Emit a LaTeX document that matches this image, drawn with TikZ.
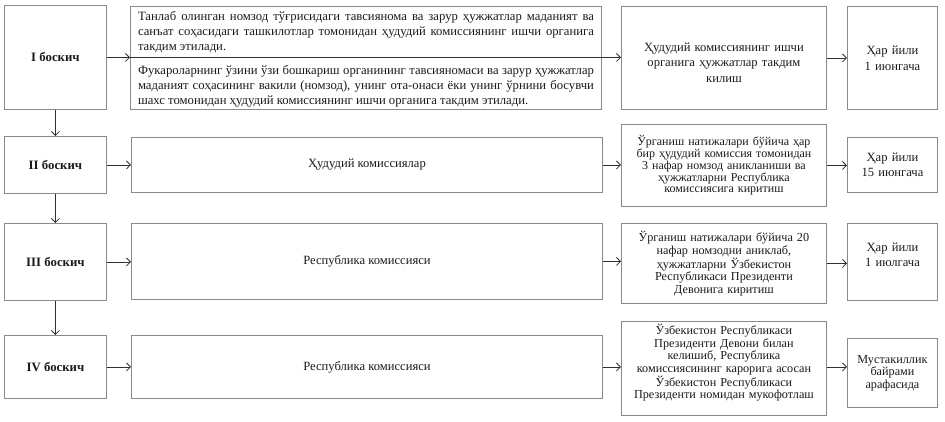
\documentclass[tikz,border=0pt]{standalone}
\usepackage{fontspec}
\setmainfont{Liberation Serif}
\usetikzlibrary{arrows.meta}
\definecolor{boxgray}{HTML}{8A8A8A}
\definecolor{arrgray}{HTML}{303030}
\definecolor{txt}{HTML}{1A1A1A}
\newcommand{\dn}[1]{\rule[-#1]{0pt}{1pt}}
\tikzset{
  box/.style={draw=boxgray, line width=0.9pt, anchor=north west, inner sep=0pt, text=txt, font=\fontsize{12.6}{15}\selectfont},
  stagebox/.style={box, minimum width=102pt, font=\fontsize{12.8}{15}\selectfont\bfseries},
  wide/.style={box, minimum width=471pt},
  resbox/.style={box, minimum width=205pt, align=center, text width=202pt},
  datebox/.style={box, minimum width=90pt, align=center, text width=88pt},
  tight/.style={font=\fontsize{12.2}{12.5}\selectfont},
  arr/.style={draw=arrgray, line width=0.8pt, -{Straight Barb[length=4pt,width=8pt]}},
  divline/.style={draw=arrgray, line width=0.8pt},
  para/.style={text=txt, text width=456pt, align=justify, inner sep=0pt, font=\fontsize{12.7}{15}\selectfont}
}
\begin{document}
\begin{tikzpicture}[x=1pt,y=-1pt]
\useasboundingbox (0,0) rectangle (945,421);
% Row 1
\node[stagebox, minimum height=104pt] (s1) at (4,5) {I боскич};
\node[wide, minimum height=103pt] (t1) at (130,6) {};
\node[resbox, minimum height=103pt, font=\fontsize{12.6}{15.5}\selectfont] (r1) at (621,6) {\rule{0pt}{18pt}Ҳудудий комиссиянинг ишчи\\органига ҳужжатлар такдим\\килиш};
\node[datebox, minimum height=103pt, font=\fontsize{12.6}{16}\selectfont] (d1) at (847,6) {Ҳар йили\\1 июнгача};
\node[para] (p1a) at (366,32) {Танлаб олинган номзод тўғрисидаги тавсиянома ва зарур ҳужжатлар маданият ва санъат соҳасидаги ташкилотлар томонидан ҳудудий комиссиянинг ишчи органига такдим этилади.};
\node[para] (p1b) at (366,86) {Фукароларнинг ўзини ўзи бошкариш органининг тавсияномаси ва зарур ҳужжатлар маданият соҳасининг вакили (номзод), унинг ота-онаси ёки унинг ўрнини босувчи шахс томонидан ҳудудий комиссиянинг ишчи органига такдим этилади.};
% Row 2
\node[stagebox, minimum height=57pt] (s2) at (4,136) {II боскич};
\node[wide, minimum height=55pt] (t2) at (131,137) {Ҳудудий комиссиялар};
\node[resbox, minimum height=82pt, font=\fontsize{12}{11.8}\selectfont] (r2) at (621,124) {Ўрганиш натижалари бўйича ҳар\\бир ҳудудий комиссия томонидан\\3 нафар номзод аникланиши ва\\ҳужжатларни Республика\\комиссиясига киритиш};
\node[datebox, minimum height=55pt, font=\fontsize{12.6}{15}\selectfont] (d2) at (847,137) {Ҳар йили\\15 июнгача};
% Row 3
\node[stagebox, minimum height=77pt] (s3) at (4,223) {III боскич};
\node[wide, minimum height=76pt] (t3) at (131,223) {Республика комиссияси};
\node[resbox, minimum height=80pt, tight] (r3) at (621,223) {Ўрганиш натижалари бўйича 20\\нафар номзодни аниклаб,\\ҳужжатларни Ўзбекистон\\Республикаси Президенти\\Девонига киритиш};
\node[datebox, minimum height=77pt, font=\fontsize{12.6}{15}\selectfont] (d3) at (847,223) {Ҳар йили\\1 июлгача\dn{14pt}};
% Row 4
\node[stagebox, minimum height=63pt] (s4) at (4,335) {IV боскич};
\node[wide, minimum height=63pt] (t4) at (131,335) {Республика комиссияси};
\node[resbox, minimum height=94pt, tight] (r4) at (621,321) {Ўзбекистон Республикаси\\Президенти Девони билан\\келишиб, Республика\\комиссиясининг карорига асосан\\Ўзбекистон Республикаси\\Президенти номидан мукофотлаш\dn{14pt}};
\node[datebox, minimum height=69pt, tight] (d4) at (847,338) {Мустакиллик\\байрами\\арафасида};
% Row 1 connectors
\coordinate (m1) at (s1.east -| t1.west);
\coordinate (m2) at (s1.east -| t1.east);
\draw[arr] (s1.east) -- (m1);
\draw[divline] (m1) -- (m2);
\draw[arr] (m2) -- (s1.east -| r1.west);
\draw[arr] (r1.east) -- (d1.west);
% Rows 2-4
\draw[arr] (s2.east) -- (s2.east -| t2.west);
\draw[arr] (t2.east) -- (t2.east -| r2.west);
\draw[arr] (r2.east) -- (r2.east -| d2.west);
\draw[arr] (s3.east) -- (s3.east -| t3.west);
\draw[arr] (t3.east) -- (t3.east -| r3.west);
\draw[arr] (r3.east) -- (r3.east -| d3.west);
\draw[arr] (s4.east) -- (s4.east -| t4.west);
\draw[arr] (t4.east) -- (t4.east -| r4.west);
\draw[arr] (t4.east -| r4.east) -- (t4.east -| d4.west);
% vertical
\draw[arr] (s1.south) -- (s2.north);
\draw[arr] (s2.south) -- (s3.north);
\draw[arr] (s3.south) -- (s4.north);
\end{tikzpicture}
\end{document}
